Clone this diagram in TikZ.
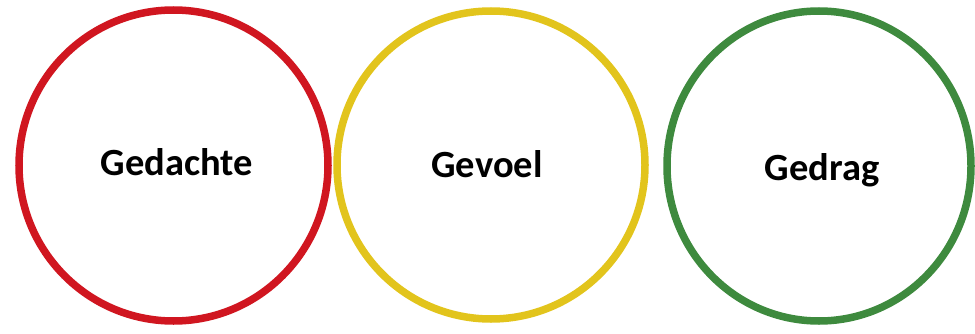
\documentclass[tikz,border=0pt]{standalone}
\usepackage{fontspec}
\setmainfont{Carlito}
\usetikzlibrary{shapes.geometric}
\definecolor{ringred}{RGB}{208,22,32}
\definecolor{ringyellow}{RGB}{226,196,28}
\definecolor{ringgreen}{RGB}{62,138,62}
\tikzset{
  ring/.style={ellipse, line width=7.5pt, inner sep=0pt, fill=none},
  lbl/.style={anchor=base, font=\fontsize{38.5}{42}\selectfont\bfseries, text=black, inner sep=0pt}
}
\begin{document}
\begin{tikzpicture}[x=1pt,y=1pt]
\useasboundingbox (0,0) rectangle (975,333);
\node[ring, draw=ringred, minimum width=309pt, minimum height=311pt] (red) at (173.5,167.5) {};
\node[ring, draw=ringyellow, minimum width=308pt, minimum height=308pt] (yellow) at (491,168) {};
\node[ring, draw=ringgreen, minimum width=304pt, minimum height=310pt] (green) at (819,167) {};
\node[lbl] (t1) at (177,158) {Gedachte};
\node[lbl] (t2) at (487,156) {Gevoel};
\node[lbl] (t3) at (822,153) {Gedrag};
\end{tikzpicture}
\end{document}
